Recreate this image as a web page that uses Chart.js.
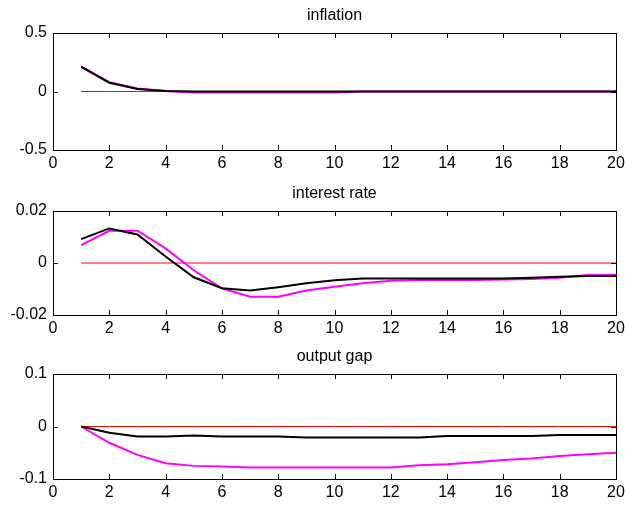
<!DOCTYPE html>
<html>
<head>
<meta charset="utf-8">
<script src="https://cdn.jsdelivr.net/npm/chart.js@4.4.1/dist/chart.umd.min.js"></script>
<style>
  body { margin: 0; background: #fff; width: 625px; height: 506px; position: relative; overflow: hidden; }
  canvas { position: absolute; left: 0; }
</style>
</head>
<body>
<canvas id="c1" width="625" height="180" style="top:0px"></canvas>
<canvas id="c2" width="625" height="166" style="top:180px"></canvas>
<canvas id="c3" width="625" height="160" style="top:346px"></canvas>
<script>
// horizon (quarters)
const periods = [1, 2, 3, 4, 5, 6, 7, 8, 9, 10, 11, 12, 13, 14, 15, 16, 17, 18, 19, 20];
const zeroLine = [0, 0, 0, 0, 0, 0, 0, 0, 0, 0, 0, 0, 0, 0, 0, 0, 0, 0, 0, 0];
const xTicks = [0, 2, 4, 6, 8, 10, 12, 14, 16, 18, 20];

// inflation
const inflationBlack   = [0.21, 0.075, 0.022, 0.004, 0, 0, 0, 0, 0, 0, 0, 0, 0, 0, 0, 0, 0, 0, 0, 0];
const inflationMagenta = [0.215, 0.08, 0.025, 0.005, -0.008, -0.008, -0.008, -0.008, -0.008, -0.008, 0, 0, 0, 0, 0, 0, 0, 0, 0, 0];
const inflationTicks = [-0.5, 0, 0.5];

// interest rate
const rateBlack   = [0.0092, 0.0133, 0.011, 0.0025, -0.0055, -0.0097, -0.0106, -0.0093, -0.0078, -0.0066, -0.006, -0.006, -0.006, -0.006, -0.006, -0.006, -0.0057, -0.0053, -0.005, -0.005];
const rateMagenta = [0.0069, 0.0124, 0.0124, 0.0056, -0.0028, -0.0097, -0.013, -0.013, -0.0106, -0.0091, -0.0078, -0.0068, -0.0065, -0.0065, -0.0065, -0.0063, -0.0062, -0.0057, -0.0046, -0.0045];
const rateTicks = [-0.02, 0, 0.02];

// output gap
const gapBlack   = [0, -0.012, -0.019, -0.019, -0.017, -0.019, -0.019, -0.019, -0.021, -0.021, -0.021, -0.021, -0.021, -0.018, -0.018, -0.018, -0.018, -0.016, -0.016, -0.016];
const gapMagenta = [0, -0.031, -0.054, -0.070, -0.075, -0.076, -0.078, -0.078, -0.078, -0.078, -0.078, -0.078, -0.074, -0.072, -0.068, -0.064, -0.061, -0.056, -0.053, -0.050];
const gapTicks = [-0.1, 0, 0.1];

const FONT = '"Liberation Sans", Arial, sans-serif';

const toXY = arr => arr.map((v, i) => ({ x: periods[i], y: v }));

// box + inward tick marks + title, matlab style
const framePlugin = {
    id: 'frame',
    afterDatasetsDraw(chart, args, opts) {
        const { ctx, chartArea: a, scales } = chart;
        ctx.save();
        ctx.strokeStyle = '#000';
        ctx.lineWidth = 1;
        ctx.beginPath();
        scales.x.ticks.forEach(t => {
            const px = Math.round(scales.x.getPixelForValue(t.value)) + 0.5;
            ctx.moveTo(px, a.bottom); ctx.lineTo(px, a.bottom - 5);
            ctx.moveTo(px, a.top); ctx.lineTo(px, a.top + 5);
        });
        scales.y.ticks.forEach(t => {
            const py = Math.round(scales.y.getPixelForValue(t.value)) + 0.5;
            ctx.moveTo(a.left, py); ctx.lineTo(a.left + 5, py);
            ctx.moveTo(a.right, py); ctx.lineTo(a.right - 5, py);
        });
        ctx.stroke();
        ctx.strokeRect(Math.round(a.left) + 0.5, Math.round(a.top) + 0.5,
                       Math.round(a.right - a.left), Math.round(a.bottom - a.top));
        ctx.fillStyle = '#000';
        ctx.font = '16px ' + FONT;
        ctx.textAlign = 'center';
        ctx.textBaseline = 'alphabetic';
        ctx.fillText(opts.text, (a.left + a.right) / 2, a.top - 13);
        ctx.restore();
    }
};

function makePanel(id, title, black, magenta, yTicks, padTop, padBottom, xHeight) {
    return new Chart(document.getElementById(id), {
        type: 'line',
        data: {
            datasets: [
                { data: toXY(black), borderColor: '#000000', borderWidth: 2 },
                { data: toXY(magenta), borderColor: '#ff00ff', borderWidth: 2 },
                { data: toXY(zeroLine), borderColor: '#ff0000', borderWidth: 1 }
            ]
        },
        options: {
            responsive: false,
            animation: false,
            events: [],
            layout: { padding: { top: padTop, bottom: padBottom, left: 0, right: 9 } },
            elements: { point: { radius: 0 }, line: { tension: 0, borderJoinStyle: 'miter' } },
            plugins: {
                legend: { display: false },
                tooltip: { enabled: false },
                frame: { text: title }
            },
            scales: {
                x: {
                    type: 'linear', min: 0, max: 20,
                    afterBuildTicks: s => { s.ticks = xTicks.map(v => ({ value: v })); },
                    afterFit: s => { s.height = xHeight; s.paddingLeft = 0; s.paddingRight = 0; },
                    grid: { display: false, drawTicks: false },
                    border: { display: false },
                    ticks: { color: '#000', font: { family: FONT, size: 16 }, padding: 4, maxRotation: 0 }
                },
                y: {
                    type: 'linear', min: yTicks[0], max: yTicks[yTicks.length - 1],
                    afterBuildTicks: s => { s.ticks = yTicks.map(v => ({ value: v })); },
                    afterFit: s => { s.width = 53; s.paddingTop = 0; s.paddingBottom = 0; },
                    grid: { display: false, drawTicks: false },
                    border: { display: false },
                    ticks: { color: '#000', font: { family: FONT, size: 16 }, padding: 6,
                             callback: v => String(v) }
                }
            }
        },
        plugins: [framePlugin]
    });
}

makePanel('c1', 'inflation', inflationBlack, inflationMagenta, inflationTicks, 33, 0, 30);
makePanel('c2', 'interest rate', rateBlack, rateMagenta, rateTicks, 31, 1, 30);
makePanel('c3', 'output gap', gapBlack, gapMagenta, gapTicks, 28, 0, 27);
</script>
</body>
</html>
